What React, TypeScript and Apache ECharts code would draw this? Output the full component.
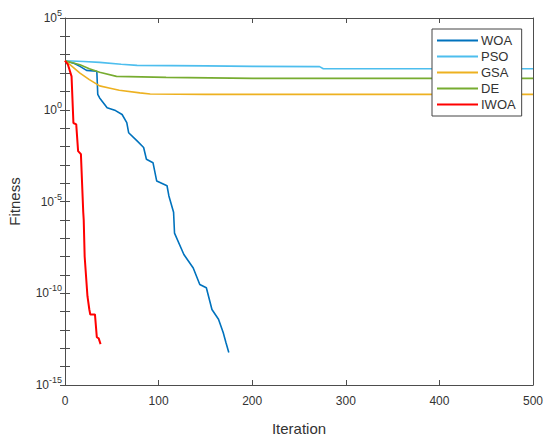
import React, { useRef, useEffect } from 'react';
import * as echarts from 'echarts';

// [iteration, best fitness]
const woa: [number, number][] = [
    [0, 470], [10, 330], [16, 230], [23, 140], [34, 125], [35, 6.8], [37, 4.4],
    [45, 1.3], [54, 0.9], [61, 0.55], [66, 0.2], [68, 0.056], [77, 0.02],
    [84, 0.0087], [87, 0.002], [94, 0.0013], [98, 1.3e-4], [109, 7.2e-5],
    [111, 2e-5], [116, 2.6e-6], [117, 1.9e-7], [127, 1.3e-8], [137, 2.4e-9],
    [144, 3e-10], [151, 2e-10], [157, 1.3e-11], [164, 3.8e-12], [169, 7.2e-13],
    [172, 2e-13], [175, 5.9e-14],
];
const pso: [number, number][] = [
    [0, 470], [20, 430], [37, 380], [60, 300], [77, 261], [150, 245],
    [201, 230], [272, 225], [276, 172], [500, 170],
];
const gsa: [number, number][] = [
    [0, 470], [5, 300], [16, 100], [26, 44], [37, 20], [47, 15.5], [58, 11.5],
    [80, 8.3], [91, 7.2], [150, 6.9], [500, 6.9],
];
const de: [number, number][] = [
    [0, 470], [16, 280], [26, 172], [37, 110], [55, 66], [108, 58],
    [201, 51], [500, 51],
];
const iwoa: [number, number][] = [
    [0, 470], [3, 300], [7, 66], [9, 0.19], [12, 0.16], [14, 0.0056],
    [17, 0.0038], [19.5, 2.6e-6], [20, 1e-6], [21, 1e-8], [24, 6.9e-11],
    [26, 1.3e-11], [27, 7e-12], [32, 7e-12], [34, 4e-13], [36, 3.5e-13],
    [38, 1.7e-13],
];

const seriesNames = ['WOA', 'PSO', 'GSA', 'DE', 'IWOA'];
const seriesData = [woa, pso, gsa, de, iwoa];
const colors = ['#0072BD', '#4DBEEE', '#EDB120', '#77AC30', '#FF0000'];

const xTicks = { min: 0, max: 500, interval: 100 };
// log axis: labelled every 5 decades
const yRange = { min: 1e-15, max: 1e5, interval: 5 };
// decade exponents, one tick per decade
const expRange = { min: -15, max: 5, interval: 1 };

const font = 'Liberation Sans, Arial, sans-serif';
const axisColor = '#4d4d4d';
const textColor = '#333';

const App: React.FC = () => {
    const chartRef = useRef<HTMLDivElement>(null);

    useEffect(() => {
        if (!chartRef.current) return;
        const chart = echarts.init(chartRef.current, undefined, { renderer: 'svg' });

        const boxAxis = {
            axisLine: { show: true, onZero: false, lineStyle: { color: axisColor, width: 1 } },
            axisTick: { show: true, inside: true, length: 5, lineStyle: { color: axisColor } },
            splitLine: { show: false },
        };

        const logLabel = (v: number) => {
            const e = Math.round(Math.log10(v));
            if (e % 5 !== 0) return '';
            return `{b|10}{e|${e}}`;
        };

        const tickOnly = (position: 'left' | 'right') => ({
            type: 'value',
            position,
            offset: 0,
            ...expRange,
            axisLine: { show: false },
            axisTick: { show: true, inside: true, length: 5, lineStyle: { color: axisColor } },
            axisLabel: { show: false },
            splitLine: { show: false },
        });

        chart.setOption({
            animation: false,
            backgroundColor: '#fff',
            textStyle: { fontFamily: font },
            grid: { left: 65, right: 17, top: 18, bottom: 57, containLabel: false, outerBoundsMode: 'none' },
            legend: {
                orient: 'vertical',
                left: 432,
                top: 29,
                width: 90,
                icon: 'rect',
                itemWidth: 41,
                itemHeight: 2,
                itemGap: 3,
                padding: [5, 6, 5, 5],
                borderColor: '#444',
                borderWidth: 1,
                backgroundColor: '#fff',
                textStyle: { fontSize: 13, color: textColor, fontFamily: font, padding: [0, 0, 0, -2] },
                data: seriesNames,
            },
            xAxis: [
                {
                    type: 'value',
                    ...xTicks,
                    ...boxAxis,
                    name: 'Iteration',
                    nameLocation: 'middle',
                    nameGap: 36,
                    nameTextStyle: { fontSize: 15, color: textColor, fontFamily: font },
                    axisLabel: { fontSize: 12, color: textColor, margin: 10, fontFamily: font },
                },
                {
                    type: 'value',
                    position: 'top',
                    ...xTicks,
                    ...boxAxis,
                    axisLabel: { show: false },
                },
            ],
            yAxis: [
                {
                    type: 'log',
                    logBase: 10,
                    ...yRange,
                    ...boxAxis,
                    axisTick: { show: false },
                    name: 'Fitness',
                    nameLocation: 'middle',
                    nameGap: 43,
                    nameTextStyle: { fontSize: 15, color: textColor, fontFamily: font },
                    axisLabel: {
                        margin: 3,
                        formatter: logLabel,
                        showMinLabel: true,
                        showMaxLabel: true,
                        rich: {
                            b: { fontSize: 12, color: textColor, fontFamily: font },
                            e: { fontSize: 9, color: textColor, fontFamily: font, padding: [0, 0, 10, 0] },
                        },
                    },
                },
                {
                    type: 'log',
                    logBase: 10,
                    position: 'right',
                    ...yRange,
                    ...boxAxis,
                    axisTick: { show: false },
                    axisLabel: { show: false },
                },
                tickOnly('left'),
                tickOnly('right'),
            ],
            series: seriesNames.map((name, i) => ({
                name,
                type: 'line',
                data: seriesData[i],
                showSymbol: false,
                symbol: 'none',
                color: colors[i],
                lineStyle: { width: name === 'IWOA' ? 2 : 1.6, color: colors[i] },
                z: name === 'IWOA' ? 5 : 2,
            })),
        });

        return () => {
            chart.dispose();
        };
    }, []);

    return (
        <div
            ref={chartRef}
            style={{ position: 'fixed', left: 0, top: 0, width: '550px', height: '442px' }}
        ></div>
    );
};

export default App;
